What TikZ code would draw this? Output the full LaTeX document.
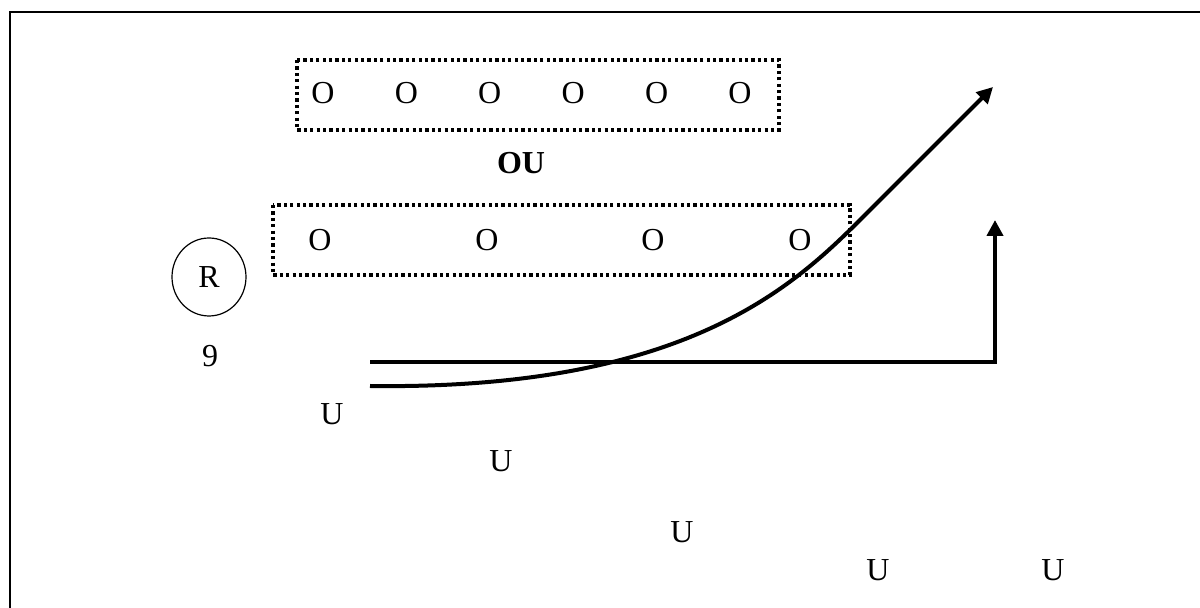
\documentclass[tikz,border=0pt]{standalone}
\usepackage{fontspec}
\setmainfont{Liberation Serif}
\usetikzlibrary{arrows.meta,shapes.geometric}
\begin{document}
\begin{tikzpicture}[x=0.5pt,y=-0.5pt,
  dotbox/.style={line width=1.8pt,dash pattern=on 1.6pt off 1.6pt},
  flow/.style={line width=2pt,-{Triangle[length=8pt,width=8pt]}},
  lbl/.style={inner sep=0pt,font=\fontsize{16}{19}\selectfont}]
\useasboundingbox (0,0) rectangle (1200,608);
\clip (0,0) rectangle (1200,608);
% frame
\draw[line width=1pt] (10,620) -- (10,12) -- (1210,12);
% upper row
\draw[dotbox] (297,60) rectangle (779,130);
\foreach \i in {0,...,5}
  \node[lbl] (o\i) at (323+83.4*\i,93) {O};
\node[lbl,font=\fontsize{16}{19}\selectfont\bfseries] (ou) at (521,163) {OU};
% lower row
\draw[dotbox] (273,205) rectangle (850,275);
\node[lbl] (p1) at (320,240) {O};
\node[lbl] (p2) at (487,240) {O};
\node[lbl] (p3) at (653,240) {O};
\node[lbl] (p4) at (800,240) {O};
\node[lbl,draw,ellipse,line width=0.6pt,minimum width=37pt,minimum height=39pt] (r) at (209,277) {R};
\node[lbl] (nine) at (210,356) {9};
% paths
\coordinate (hs) at (370,362);
\coordinate (hc) at (995,362);
\coordinate (ht) at (995,220);
\draw[flow] (hs) -- (hc) -- (ht);
\coordinate (cs) at (370,386);
\coordinate (cm) at (860,220);
\coordinate (ce) at (993,87);
\draw[flow] (cs) .. controls (680,390) and (790,290) .. (cm) -- (ce);
% labels
\node[lbl] (u1) at (332,414) {U};
\node[lbl] (u2) at (501,461) {U};
\node[lbl] (u3) at (682,532) {U};
\node[lbl] (u4) at (878,570) {U};
\node[lbl] (u5) at (1053,570) {U};
\end{tikzpicture}
\end{document}
